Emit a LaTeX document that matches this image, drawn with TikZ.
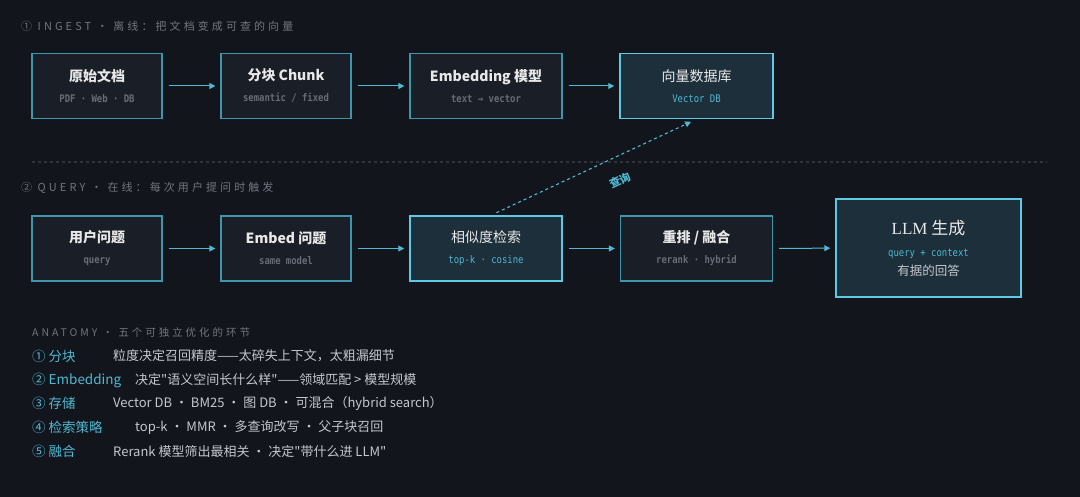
\documentclass[tikz,border=0pt]{standalone}
\usepackage{fontspec}
\setmainfont[Ligatures=TeXOff]{Noto Sans CJK SC}
\newfontfamily\hdrfont[LetterSpace=28]{Noto Sans CJK SC}
\newfontfamily\subfont[FakeStretch=0.85]{DejaVu Sans Mono}
\newfontfamily\llmfont{Liberation Serif}
\usetikzlibrary{arrows.meta}

\definecolor{bgc}{HTML}{12151C}
\definecolor{boxfill}{HTML}{1A1E27}
\definecolor{boxline}{HTML}{3F95AB}
\definecolor{hifill}{HTML}{1D2F3A}
\definecolor{hiline}{HTML}{5FC9E3}
\definecolor{titletext}{HTML}{E8E8E8}
\definecolor{subgray}{HTML}{676D77}
\definecolor{subcyan}{HTML}{4FB8D2}
\definecolor{hdrgray}{HTML}{70757E}
\definecolor{descgray}{HTML}{C4C7CC}
\definecolor{flowc}{HTML}{4FB8D2}
\definecolor{sepc}{HTML}{2E333D}

\newcommand\subtxt[1]{{\subfont\fontsize{10.5}{12}\selectfont\color{subgray}#1}}
\newcommand\subcyan[1]{{\subfont\fontsize{10.5}{12}\selectfont\color{subcyan}#1}}

\begin{document}
\begin{tikzpicture}[x=1pt,y=-1pt,
    box/.style={draw=boxline, fill=boxfill, line width=1.2pt, minimum width=130pt, minimum height=65pt, inner sep=0pt, align=center, text=titletext, font=\bfseries\fontsize{14}{16}\selectfont},
    hibox/.style={box, draw=hiline, fill=hifill, line width=1.5pt, font=\fontsize{14}{16}\selectfont},
    flow/.style={draw=flowc, line width=1pt, -{Triangle[length=6pt,width=6pt]}, shorten <=6pt, shorten >=5pt},
    hdr/.style={anchor=west, inner sep=0pt, text=hdrgray, font=\hdrfont\fontsize{11}{13}\selectfont},
    tag/.style={anchor=west, inner sep=0pt, text=subcyan, font=\fontsize{13.5}{15}\selectfont},
    desc/.style={anchor=west, inner sep=0pt, text=descgray, font=\fontsize{13}{15}\selectfont}]
  \fill[bgc] (0,0) rectangle (1080,497);

  % ingest
  \node[hdr] (h1) at (21,26) {① INGEST · 离线：把文档变成可查的向量};
  \node[box] (doc) at (97,86) {原始文档\\[5pt]\subtxt{PDF · Web · DB}};
  \node[box] (chunk) at (286,86) {分块 Chunk\\[5pt]\subtxt{semantic / fixed}};
  \node[box, minimum width=152pt] (emb) at (486,86) {Embedding 模型\\[5pt]\subtxt{text → vector}};
  \node[hibox, minimum width=153pt] (vdb) at (696.5,86) {向量数据库\\[5pt]\subcyan{Vector DB}};
  \draw[flow] (doc) -- (chunk);
  \draw[flow] (chunk) -- (emb);
  \draw[flow] (emb) -- (vdb);

  \draw[sepc, line width=1.3pt, dash pattern=on 3pt off 3pt] (32,162) -- (1047,162);

  % query
  \node[hdr] (h2) at (21,188) {② QUERY · 在线：每次用户提问时触发};
  \node[box] (ask) at (97,248.5) {用户问题\\[5pt]\subtxt{query}};
  \node[box] (qemb) at (286,248.5) {Embed 问题\\[5pt]\subtxt{same model}};
  \node[hibox, minimum width=152pt] (search) at (486,248.5) {相似度检索\\[5pt]\subcyan{top-k · cosine}};
  \node[box, minimum width=152pt] (rerank) at (696.5,248.5) {重排 / 融合\\[5pt]\subtxt{rerank · hybrid}};
  \node[hibox, minimum width=185pt, minimum height=98pt] (llm) at (928.5,248) {\fontsize{17}{19}\selectfont{\llmfont LLM} 生成\\[6pt]\subcyan{query + context}\\[3pt]{\color{descgray}\fontsize{12.5}{14}\selectfont 有据的回答}};
  \draw[flow] (ask) -- (qemb);
  \draw[flow] (qemb) -- (search);
  \draw[flow] (search) -- (rerank);
  \draw[flow] (rerank) -- (llm);
  \draw[flowc, line width=1.1pt, dash pattern=on 3pt off 3pt, -{Triangle[length=6pt,width=6pt]}, shorten <=6pt, shorten >=6pt]
    ([xshift=5pt]search.north) -- (vdb.south)
    node[pos=0.58, sloped, below=14pt, text=subcyan, font=\bfseries\fontsize{11}{13}\selectfont] (qlabel) {查询};

  % anatomy
  \node[hdr, font=\hdrfont\fontsize{10.5}{12}\selectfont] (h3) at (32,332) {ANATOMY · 五个可独立优化的环节};
  \node[tag] (t1) at (32,356) {① 分块};
  \node[desc] (d1) at (113,356) {粒度决定召回精度——太碎失上下文，太粗漏细节};
  \node[tag] (t2) at (32,380) {② Embedding};
  \node[desc] (d2) at (135,380) {决定"语义空间长什么样"——领域匹配 > 模型规模};
  \node[tag] (t3) at (32,403.5) {③ 存储};
  \node[desc] (d3) at (113,403.5) {Vector DB · BM25 · 图 DB · 可混合（hybrid search）};
  \node[tag] (t4) at (32,427.5) {④ 检索策略};
  \node[desc] (d4) at (135,427.5) {top-k · MMR · 多查询改写 · 父子块召回};
  \node[tag] (t5) at (32,451.5) {⑤ 融合};
  \node[desc] (d5) at (113,451.5) {Rerank 模型筛出最相关 · 决定"带什么进 LLM"};
\end{tikzpicture}
\end{document}
